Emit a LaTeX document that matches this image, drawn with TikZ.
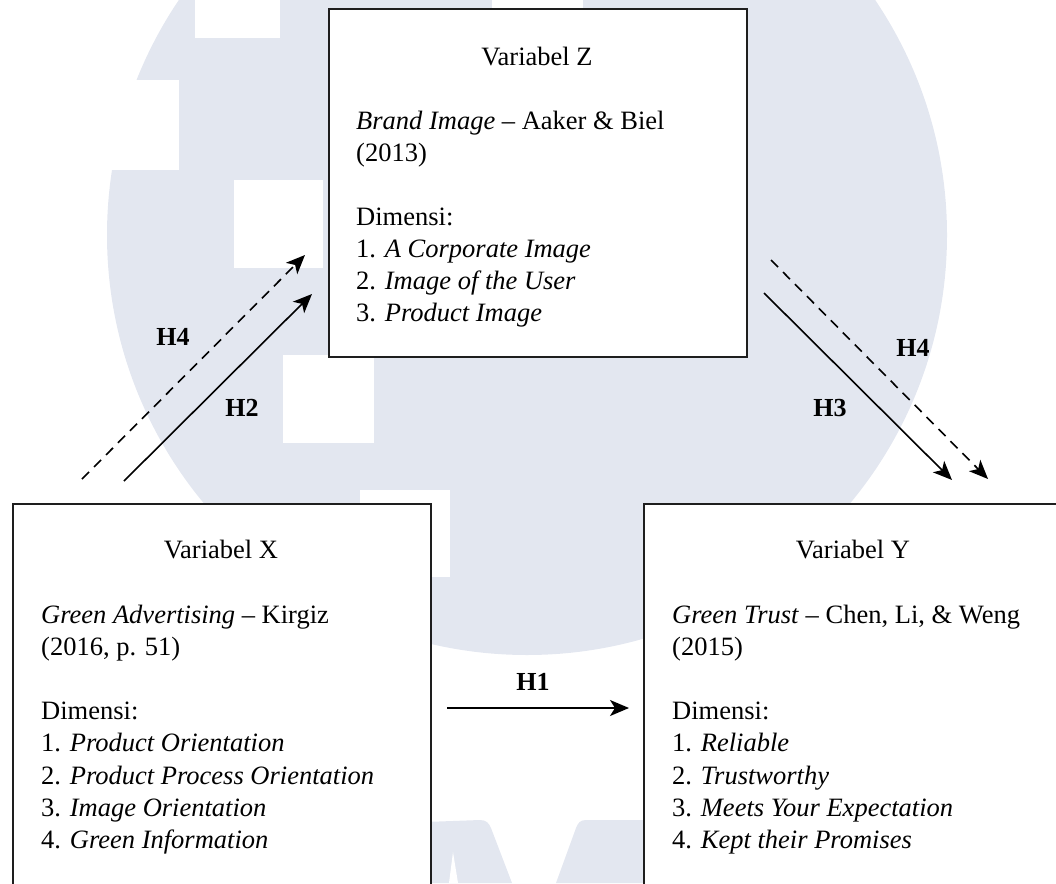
\documentclass[tikz,border=0pt]{standalone}
\usepackage{fontspec}
\setmainfont{Liberation Serif}
\usetikzlibrary{arrows.meta}
\definecolor{wm}{RGB}{227,231,240}
\definecolor{boxline}{RGB}{30,30,30}
\begin{document}
\begin{tikzpicture}[x=1pt,y=-1pt,
  box/.style={draw=boxline, line width=1.8pt, fill=white, inner sep=0pt, anchor=north west},
  txt/.style={inner sep=0pt, font=\fontsize{26.5}{32}\selectfont},
  ttl/.style={txt, anchor=base},
  ln/.style={txt, anchor=base west},
  hlbl/.style={inner sep=0pt, font=\fontsize{26}{32}\selectfont\bfseries},
  arr/.style={line width=1.6pt, -{Stealth[length=19pt,width=16pt,inset=5pt]}},
  darr/.style={arr, dash pattern=on 10pt off 7pt}]
\useasboundingbox (0,0) rectangle (1056,883);
\clip (0,0) rectangle (1056,883);
% watermark
\fill[wm] (527,235) circle (420pt);
\fill[white] (195,0) rectangle (280,38);
\fill[white] (0,80) rectangle (179,170);
\fill[white] (234,180) rectangle (323,268);
\fill[white] (283,355) rectangle (374,443);
\fill[white] (360,490) rectangle (450,577);
\fill[white] (492,0) rectangle (583,10);
\fill[wm] (425,883) -- (425,822) -- (480,820) .. controls (486,820) and (489,823) .. (491,828) -- (512,883) -- cycle;
\fill[white] (449,883) -- (453,852) -- (458,883) -- cycle;
\fill[wm] (650,883) -- (650,820) -- (586,820) .. controls (580,820) and (578,823) .. (576,828) -- (556,883) -- cycle;
% boxes
\node[box, minimum width=418pt, minimum height=348pt] (Z) at (328,8) {};
\node[box, minimum width=418pt, minimum height=400pt] (X) at (12,503) {};
\node[box, minimum width=413pt, minimum height=400pt] (Y) at (643,503) {};
% box Z text
\node[ttl] (zt) at (537,65) {Variabel Z};
\node[ln] (z1) at (356,129) {\textit{Brand Image} -- Aaker \& Biel};
\node[ln] (z2) at (356,161) {(2013)};
\node[ln] (z3) at (356,225) {Dimensi:};
\node[ln] (z4) at (356,257) {1. \textit{A Corporate Image}};
\node[ln] (z5) at (356,289) {2. \textit{Image of the User}};
\node[ln] (z6) at (356,321) {3. \textit{Product Image}};
% box X text
\node[ttl] (xt) at (221,558) {Variabel X};
\node[ln] (x1) at (41,623) {\textit{Green Advertising} -- Kirgiz};
\node[ln] (x2) at (41,655) {(2016, p. 51)};
\node[ln] (x3) at (41,719) {Dimensi:};
\node[ln] (x4) at (41,751) {1. \textit{Product Orientation}};
\node[ln] (x5) at (41,784) {2. \textit{Product Process Orientation}};
\node[ln] (x6) at (41,816) {3. \textit{Image Orientation}};
\node[ln] (x7) at (41,848) {4. \textit{Green Information}};
% box Y text
\node[ttl] (yt) at (853,558) {Variabel Y};
\node[ln] (y1) at (672,623) {\textit{Green Trust} -- Chen, Li, \& Weng};
\node[ln] (y2) at (672,655) {(2015)};
\node[ln] (y3) at (672,719) {Dimensi:};
\node[ln] (y4) at (672,751) {1. \textit{Reliable}};
\node[ln] (y5) at (672,784) {2. \textit{Trustworthy}};
\node[ln] (y6) at (672,816) {3. \textit{Meets Your Expectation}};
\node[ln] (y7) at (672,848) {4. \textit{Kept their Promises}};
% arrow end points
\coordinate (h2s) at (124,481);
\coordinate (h2e) at (312,294);
\coordinate (h4as) at (82,479);
\coordinate (h4ae) at (305,255);
\coordinate (h3s) at (764,293);
\coordinate (h3e) at (952,480);
\coordinate (h4bs) at (771,260);
\coordinate (h4be) at (988,479);
\coordinate (h1s) at (447,708);
\coordinate (h1e) at (629,708);
% arrows
\draw[arr] (h1s) -- (h1e);
\draw[arr] (h2s) -- (h2e);
\draw[darr] (h4as) -- (h4ae);
\draw[arr] (h3s) -- (h3e);
\draw[darr] (h4bs) -- (h4be);
% labels
\node[hlbl] (l1) at (533,682) {H1};
\node[hlbl] (l2) at (242,408) {H2};
\node[hlbl] (l3) at (830,408) {H3};
\node[hlbl] (l4a) at (173,337) {H4};
\node[hlbl] (l4b) at (913,348) {H4};
\end{tikzpicture}
\end{document}
